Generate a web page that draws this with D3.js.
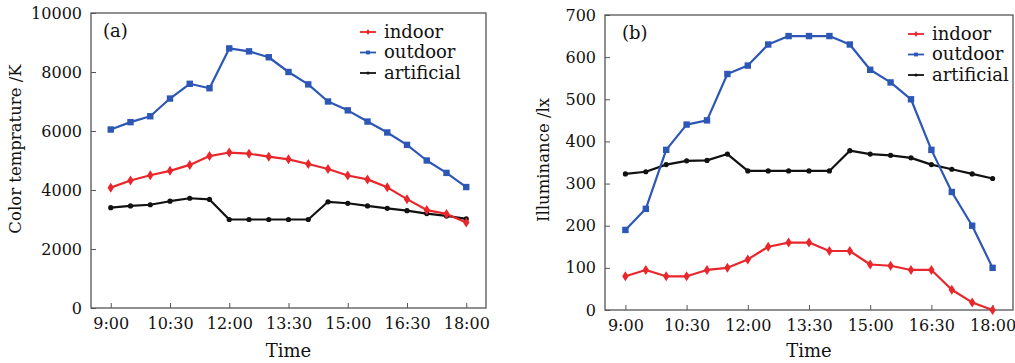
<!DOCTYPE html>
<html>
<head>
<meta charset="utf-8">
<script src="https://cdn.jsdelivr.net/npm/d3@7/dist/d3.min.js"></script>
<style>
  body { margin: 0; background: #fff; }
  svg { display: block; font-family: "DejaVu Serif", serif; }
</style>
</head>
<body>
<svg id="chart" width="1015" height="363"></svg>
<script>
var times = ["9:00","9:30","10:00","10:30","11:00","11:30","12:00","12:30","13:00","13:30",
             "14:00","14:30","15:00","15:30","16:00","16:30","17:00","17:30","18:00"],
    tick_times = ["9:00","10:30","12:00","13:30","15:00","16:30","18:00"],
    series_names = ["indoor","outdoor","artificial"];

// (a) colour temperature, K
var cct_indoor     = [4080,4320,4500,4650,4850,5150,5270,5230,5130,5040,4880,4710,4490,4360,4090,3690,3320,3190,2900],
    cct_outdoor    = [6050,6300,6500,7100,7600,7450,8800,8700,8500,8000,7580,7000,6700,6320,5950,5530,5000,4580,4100],
    cct_artificial = [3400,3460,3500,3620,3720,3680,3000,3000,3000,3000,3000,3600,3550,3460,3380,3300,3200,3120,3020],
    cct_ticks      = [0,2000,4000,6000,8000,10000];

// (b) illuminance, lx
var lux_indoor     = [80,95,80,80,95,100,120,150,160,160,140,140,108,105,95,95,48,18,0],
    lux_outdoor    = [190,240,380,440,450,560,580,630,650,650,650,630,570,540,500,380,280,200,100],
    lux_artificial = [323,328,345,354,355,370,330,330,330,330,330,378,370,367,361,345,334,323,312],
    lux_ticks      = [0,100,200,300,400,500,600,700];

var colors = { indoor: "#e8262b", outdoor: "#2d57b5", artificial: "#111111" };

function to_hours(s) {
    var p = s.split(":");
    return +p[0] + (+p[1]) / 60;
}

function marker(sel, name) {
    if ( name == "outdoor" ) {
        sel.append("rect").attr("x",-3.2).attr("y",-3.2).attr("width",6.4).attr("height",6.4)
            .attr("fill", colors[name]);
    } else if ( name == "indoor" ) {
        sel.append("path").attr("d","M0,-5L3.2,0L0,5L-3.2,0Z").attr("fill", colors[name]);
    } else {
        sel.append("circle").attr("r",2.6).attr("fill", colors[name]);
    }
}

function style_axis(a) {
    a.select(".domain").remove();
    a.selectAll("line").attr("stroke","#555");
    a.selectAll("text").attr("font-size","16px").attr("fill","#111").attr("font-family","DejaVu Serif");
}

var svg = d3.select("#chart");

function panel(opts) {
    var x = d3.scaleLinear().domain([8.5, 18.5]).range([opts.left, opts.right]),
        y = d3.scaleLinear().domain([0, opts.ticks[opts.ticks.length-1]]).range([opts.bottom, opts.top]),
        g = svg.append("g"),
        data = { indoor: opts.indoor, outdoor: opts.outdoor, artificial: opts.artificial },
        tick_hours = tick_times.map(to_hours);

    g.append("g")
        .attr("transform", "translate(0," + opts.bottom + ")")
        .call(d3.axisBottom(x)
            .tickValues(tick_hours)
            .tickFormat(function(t) { return tick_times[tick_hours.indexOf(t)]; })
            .tickSizeInner(-5).tickSizeOuter(0).tickPadding(10))
        .call(style_axis);

    g.append("g")
        .attr("transform", "translate(" + opts.left + ",0)")
        .call(d3.axisLeft(y).tickValues(opts.ticks).tickFormat(d3.format("d"))
            .tickSizeInner(-5).tickSizeOuter(0).tickPadding(9))
        .call(style_axis);

    g.append("rect")
        .attr("x", opts.left).attr("y", opts.top)
        .attr("width", opts.right - opts.left).attr("height", opts.bottom - opts.top)
        .attr("fill","none").attr("stroke","#555").attr("stroke-width",1.3);

    // black first, then blue, red on top
    ["artificial","outdoor","indoor"].forEach(function(name) {
        var pts = times.map(function(t,i) { return [to_hours(t), data[name][i]]; });
        g.append("path")
            .datum(pts)
            .attr("fill","none")
            .attr("stroke", colors[name])
            .attr("stroke-width", 2.2)
            .attr("stroke-linejoin","round")
            .attr("d", d3.line().x(function(d) { return x(d[0]); }).y(function(d) { return y(d[1]); }));
        g.selectAll(".m-" + name)
            .data(pts)
            .enter().append("g")
            .attr("transform", function(d) { return "translate(" + x(d[0]) + "," + y(d[1]) + ")"; })
            .each(function() { marker(d3.select(this), name); });
    });

    g.append("text")
        .attr("x", opts.label_x).attr("y", opts.top + 24)
        .attr("font-size","18px").attr("fill","#111")
        .text(opts.label);

    var legend = g.append("g").attr("transform", "translate(" + opts.legend_x + "," + (opts.top + 19) + ")");
    series_names.forEach(function(name, i) {
        var row = legend.append("g").attr("transform", "translate(0," + (i * 20.5) + ")");
        row.append("line").attr("x1",0).attr("x2",16).attr("y1",0).attr("y2",0)
            .attr("stroke", colors[name]).attr("stroke-width",1.8);
        var m = row.append("g").attr("transform","translate(8,0) scale(0.6)");
        marker(m, name);
        row.append("text").attr("x",24).attr("y",5.5)
            .attr("font-size","18px").attr("fill","#111")
            .text(name);
    });

    g.append("text")
        .attr("x", (x(9) + x(18)) / 2).attr("y", 357)
        .attr("text-anchor","middle").attr("font-size","18px").attr("fill","#111")
        .text("Time");

    g.append("text")
        .attr("transform", "translate(" + opts.ytitle_x + "," + opts.ytitle_y + ") rotate(-90)")
        .attr("text-anchor","middle").attr("font-size","16.5px").attr("fill","#111")
        .text(opts.ytitle);
}

panel({
    left: 91, right: 486, top: 13, bottom: 308,
    ticks: cct_ticks, indoor: cct_indoor, outdoor: cct_outdoor, artificial: cct_artificial,
    label: "(a)", label_x: 103, legend_x: 360,
    ytitle: "Color temprature /K", ytitle_x: 21, ytitle_y: 149
});

panel({
    left: 605, right: 1013, top: 15, bottom: 310,
    ticks: lux_ticks, indoor: lux_indoor, outdoor: lux_outdoor, artificial: lux_artificial,
    label: "(b)", label_x: 622, legend_x: 908,
    ytitle: "Illuminance /lx", ytitle_x: 549, ytitle_y: 160
});
</script>
</body>
</html>
